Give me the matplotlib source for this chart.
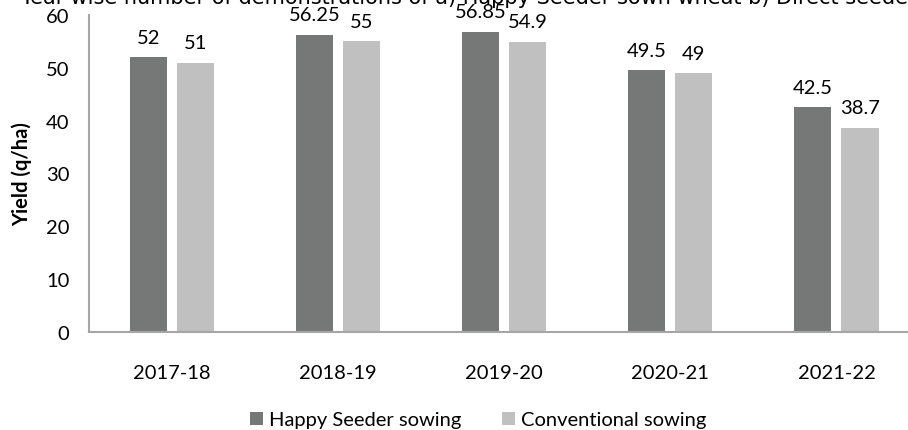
import numpy as np
import matplotlib
matplotlib.use("Agg")
import matplotlib.pyplot as plt

# yield per season, q/ha
seasons = ["2017-18", "2018-19", "2019-20", "2020-21", "2021-22"]
happy_seeder = [52, 56.25, 56.85, 49.5, 42.5]
conventional = [51, 55, 54.9, 49, 38.7]
series_names = ["Happy Seeder sowing", "Conventional sowing"]

dark = "#767877"
light = "#c0c0c0"
axis_grey = "#a6a6a6"
fs = 14.5

plt.rcParams["font.family"] = ["Lato", "DejaVu Sans"]

fig = plt.figure(figsize=(9.08, 4.31), dpi=100)
ax = fig.add_axes([0.098, 0.2274, 0.9147, 0.7355])

x = np.arange(len(seasons))
w = 0.223
off = 0.1415
b1 = ax.bar(x - off, happy_seeder, w, color=dark, label=series_names[0])
b2 = ax.bar(x + off, conventional, w, color=light, label=series_names[1])

for bars, vals in ((b1, happy_seeder), (b2, conventional)):
    for rect, v in zip(bars, vals):
        ax.annotate(f"{v:g}", (rect.get_x() + rect.get_width() / 2, v),
                    xytext=(0, 14.4), textcoords="offset points",
                    ha="center", va="center", fontsize=fs, color="#000000")

ax.set_xlim(-0.5, len(seasons) - 0.5)
ax.set_ylim(0, 60)
ax.set_yticks(range(0, 61, 10))
ax.set_xticks(x)
ax.set_xticklabels(seasons)
ax.tick_params(axis="both", length=0, labelsize=fs)
ax.tick_params(axis="x", pad=23)
ax.tick_params(axis="y", pad=14)

for side in ("top", "right"):
    ax.spines[side].set_visible(False)
for side in ("left", "bottom"):
    ax.spines[side].set_color(axis_grey)
    ax.spines[side].set_linewidth(1.5)

ax.set_ylabel("Yield (q/ha)", fontsize=fs, fontweight="bold", labelpad=10)

fig.legend(handles=[b1, b2], loc="center", bbox_to_anchor=(0.5 + 24 / 908, 1 - 421 / 431),
           ncol=2, frameon=False, fontsize=fs, handlelength=0.65, handleheight=0.65,
           handletextpad=0.3, columnspacing=2.0)

# caption line of the surrounding document, clipped by the top edge
fig.text(20 / 908, 1 - 3.5 / 431,
         "Year-wise number of demonstrations of a) Happy Seeder sown wheat b) Direct seeded rice",
         ha="left", va="baseline", fontsize=15, family="DejaVu Sans")

fig.savefig("out.png", dpi=100)
